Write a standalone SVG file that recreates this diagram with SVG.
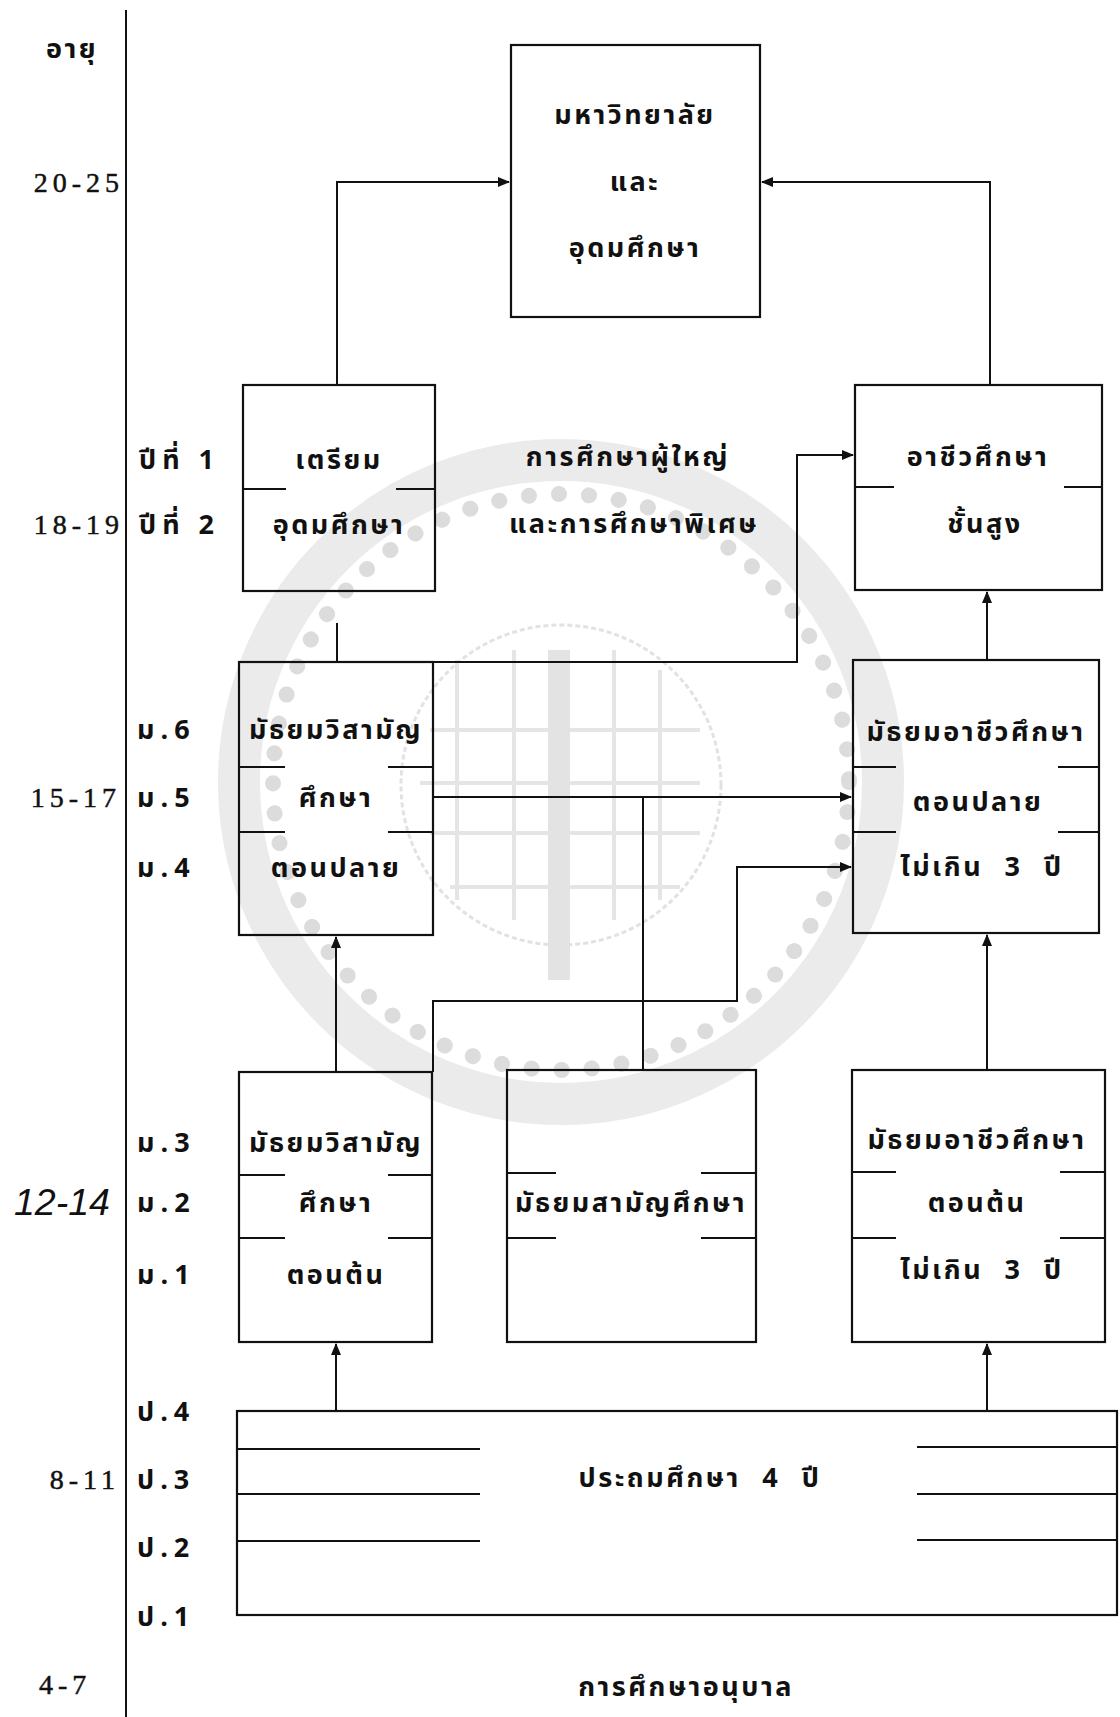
<svg xmlns="http://www.w3.org/2000/svg" width="1120" height="1717" viewBox="0 0 1120 1717">
<style>
.bx{fill:none;stroke:#111;stroke-width:2.2}
.ln{fill:none;stroke:#111;stroke-width:2}
.th{font-family:"Noto Sans Thai","Noto Serif Thai","Loma","Garuda","Norasi","DejaVu Sans",sans-serif;font-size:27px;font-weight:bold;letter-spacing:2.5px;fill:#111}
.lb{letter-spacing:6px}
.ws{word-spacing:12px}
.num{font-family:"Liberation Serif",serif;font-size:28px;letter-spacing:5px;fill:#111;stroke:#111;stroke-width:0.5}
.wm{fill:none;stroke:#ebebeb}
</style>
<defs>
<marker id="ah" markerUnits="userSpaceOnUse" markerWidth="12" markerHeight="10" refX="11" refY="5" orient="auto">
<path d="M0,0 L12,5 L0,10 z" fill="#111"/>
</marker>
</defs>
<rect width="1120" height="1717" fill="#fff"/>

<g id="watermark">
<circle cx="561" cy="782" r="322" class="wm" stroke-width="42"/>
<circle cx="561" cy="782" r="288" fill="none" stroke="#dcdcdc" stroke-width="16" stroke-dasharray="0.1 30" stroke-linecap="round"/>
<circle cx="561" cy="785" r="160" fill="none" stroke="#e2e2e2" stroke-width="3" stroke-dasharray="5 3"/>
<g stroke="#e5e5e5" stroke-width="4">
<line x1="457" y1="660" x2="457" y2="900"/>
<line x1="514" y1="650" x2="514" y2="920"/>
<line x1="614" y1="650" x2="614" y2="920"/>
<line x1="660" y1="670" x2="660" y2="900"/>
<line x1="430" y1="730" x2="700" y2="730"/>
<line x1="420" y1="783" x2="700" y2="783"/>
<line x1="430" y1="833" x2="700" y2="833"/>
<line x1="450" y1="887" x2="680" y2="887"/>
</g>
<rect x="548" y="650" width="22" height="330" fill="#e3e3e3"/>
</g>

<g id="axis">
<line x1="126" y1="10" x2="126" y2="1717" class="ln" stroke-width="2.4"/>
<text class="th" x="46" y="58">อายุ</text>
<text class="num" text-anchor="end" x="124" y="192">20-25</text>
<text class="th lb" x="139" y="469">ปีที่ 1</text>
<text class="th lb" x="139" y="534">ปีที่ 2</text>
<text class="num" text-anchor="end" x="124" y="534">18-19</text>
<text class="th lb" x="137" y="739">ม.6</text>
<text class="th lb" x="137" y="807">ม.5</text>
<text class="th lb" x="137" y="877">ม.4</text>
<text class="num" text-anchor="end" x="121" y="807">15-17</text>
<text class="th lb" x="137" y="1152">ม.3</text>
<text class="th lb" x="137" y="1212">ม.2</text>
<text class="th lb" x="137" y="1284">ม.1</text>
<text x="14" y="1215" font-family="Liberation Sans, sans-serif" font-size="37" font-style="italic" textLength="96" lengthAdjust="spacingAndGlyphs" fill="#111">12-14</text>
<text class="th lb" x="137" y="1421">ป.4</text>
<text class="th lb" x="137" y="1489">ป.3</text>
<text class="th lb" x="137" y="1557">ป.2</text>
<text class="th lb" x="137" y="1626">ป.1</text>
<text class="num" text-anchor="end" x="120" y="1489">8-11</text>
<text class="num" x="39" y="1694">4-7</text>
</g>

<g id="connectors">
<path class="ln" d="M337,385 V182 H509" marker-end="url(#ah)"/>
<path class="ln" d="M990,385 V182 H762" marker-end="url(#ah)"/>
<line class="ln" x1="337" y1="623" x2="337" y2="662"/>
<path class="ln" d="M433,662 H797 V455 H853" marker-end="url(#ah)"/>
<path class="ln" d="M433,797 H851" marker-end="url(#ah)"/>
<line class="ln" x1="643" y1="797" x2="643" y2="1070"/>
<path class="ln" d="M987,660 V592" marker-end="url(#ah)"/>
<path class="ln" d="M433,1072 V1001 H737 V867 H851" marker-end="url(#ah)"/>
<path class="ln" d="M336,1072 V937" marker-end="url(#ah)"/>
<path class="ln" d="M987,1070 V935" marker-end="url(#ah)"/>
<path class="ln" d="M336,1411 V1344" marker-end="url(#ah)"/>
<path class="ln" d="M987,1411 V1344" marker-end="url(#ah)"/>
</g>

<g id="university">
<rect class="bx" x="511" y="45" width="249" height="272"/>
<text class="th" text-anchor="middle" x="635" y="124">มหาวิทยาลัย</text>
<text class="th" text-anchor="middle" x="635" y="191">และ</text>
<text class="th" text-anchor="middle" x="635" y="257">อุดมศึกษา</text>
</g>

<g id="triam">
<rect class="bx" x="243" y="385" width="192" height="206"/>
<path class="ln" d="M243,489 H286 M396,489 H435"/>
<text class="th" text-anchor="middle" x="339" y="469">เตรียม</text>
<text class="th" text-anchor="middle" x="339" y="534">อุดมศึกษา</text>
</g>

<g id="adult">
<text class="th" text-anchor="middle" x="628" y="466">การศึกษาผู้ใหญ่</text>
<text class="th" text-anchor="middle" x="634" y="533">และการศึกษาพิเศษ</text>
</g>

<g id="voc-high">
<rect class="bx" x="855" y="385" width="247" height="205"/>
<path class="ln" d="M855,487 H894 M1064,487 H1102"/>
<text class="th" text-anchor="middle" x="978" y="466">อาชีวศึกษา</text>
<text class="th" text-anchor="middle" x="985" y="533">ชั้นสูง</text>
</g>

<g id="sec-upper">
<rect class="bx" x="239" y="662" width="194" height="273"/>
<path class="ln" d="M239,767 H285 M388,767 H433 M239,832 H285 M388,832 H433"/>
<text class="th" text-anchor="middle" x="336" y="739">มัธยมวิสามัญ</text>
<text class="th" text-anchor="middle" x="336" y="807">ศึกษา</text>
<text class="th" text-anchor="middle" x="336" y="877">ตอนปลาย</text>
</g>

<g id="voc-upper">
<rect class="bx" x="853" y="660" width="246" height="273"/>
<path class="ln" d="M853,767 H896 M1058,767 H1099 M853,832 H896 M1058,832 H1099"/>
<text class="th" text-anchor="middle" x="976" y="741">มัธยมอาชีวศึกษา</text>
<text class="th" text-anchor="middle" x="978" y="811">ตอนปลาย</text>
<text class="th ws" text-anchor="middle" x="982" y="876">ไม่เกิน 3 ปี</text>
</g>

<g id="sec-lower">
<rect class="bx" x="239" y="1072" width="193" height="270"/>
<path class="ln" d="M239,1175 H285 M388,1175 H432 M239,1238 H285 M388,1238 H432"/>
<text class="th" text-anchor="middle" x="336" y="1152">มัธยมวิสามัญ</text>
<text class="th" text-anchor="middle" x="336" y="1212">ศึกษา</text>
<text class="th" text-anchor="middle" x="336" y="1284">ตอนต้น</text>
</g>

<g id="sec-general">
<rect class="bx" x="507" y="1070" width="249" height="272"/>
<path class="ln" d="M507,1173 H556 M701,1173 H756 M507,1238 H556 M701,1238 H756"/>
<text class="th" text-anchor="middle" x="631" y="1212">มัธยมสามัญศึกษา</text>
</g>

<g id="voc-lower">
<rect class="bx" x="852" y="1070" width="253" height="272"/>
<path class="ln" d="M852,1172 H896 M1060,1172 H1105 M852,1238 H896 M1060,1238 H1105"/>
<text class="th" text-anchor="middle" x="977" y="1149">มัธยมอาชีวศึกษา</text>
<text class="th" text-anchor="middle" x="977" y="1212">ตอนต้น</text>
<text class="th ws" text-anchor="middle" x="982" y="1279">ไม่เกิน 3 ปี</text>
</g>

<g id="primary">
<rect class="bx" x="237" y="1411" width="880" height="204"/>
<path class="ln" d="M237,1449 H480 M237,1494 H480 M237,1541 H480 M917,1447 H1117 M917,1494 H1117 M917,1540 H1117"/>
<text class="th ws" text-anchor="middle" x="700" y="1487">ประถมศึกษา 4 ปี</text>
</g>

<g id="kindergarten">
<text class="th" text-anchor="middle" x="686" y="1696">การศึกษาอนุบาล</text>
</g>
</svg>
